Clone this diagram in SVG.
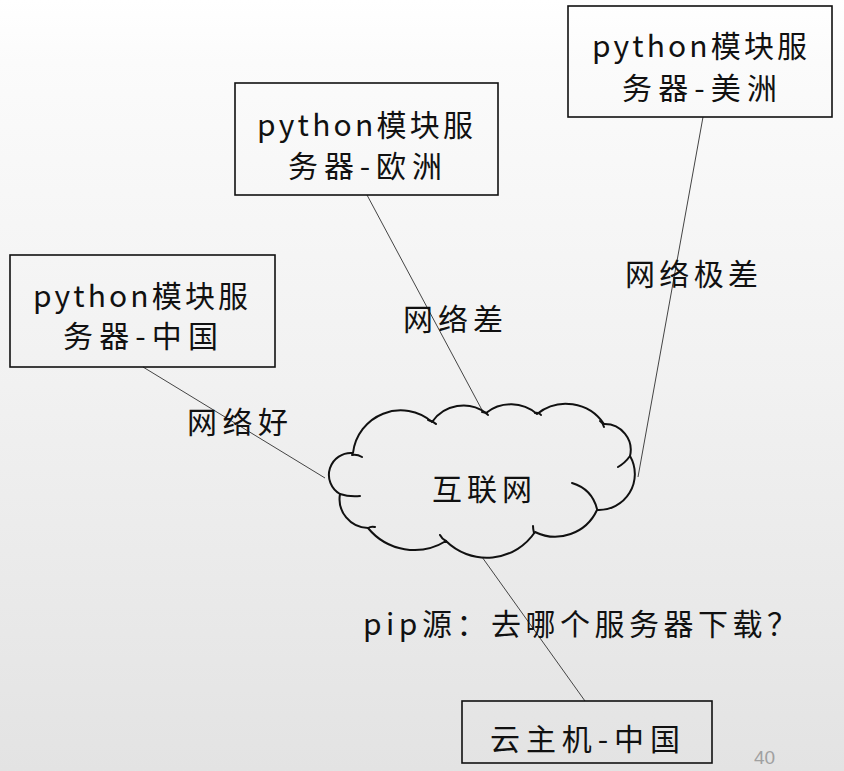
<svg xmlns="http://www.w3.org/2000/svg" width="844" height="771" viewBox="0 0 844 771">
<defs>
<linearGradient id="bg" x1="0" y1="0" x2="0" y2="1">
<stop offset="0" stop-color="#ffffff"/>
<stop offset="0.08" stop-color="#fbfbfb"/>
<stop offset="0.5" stop-color="#f1f1f1"/>
<stop offset="1" stop-color="#e3e3e3"/>
</linearGradient>
<style>
.box{fill:none;stroke:#111;stroke-width:1.6}
.t{font-family:"Noto Sans CJK SC","Liberation Sans",sans-serif;font-size:30px;fill:#111;dominant-baseline:central}
.conn line{stroke:#444;stroke-width:1}
.cloud{fill:none;stroke:#111;stroke-width:2;stroke-linecap:round;stroke-linejoin:round}
</style>
</defs>
<rect x="0" y="0" width="844" height="771" fill="url(#bg)"/>
<g id="connectors" class="conn">
<line x1="143" y1="367" x2="325" y2="478"/>
<line x1="367" y1="195" x2="482" y2="410"/>
<line x1="703" y1="117" x2="638" y2="477"/>
<line x1="482" y1="557" x2="585" y2="701"/>
</g>
<g id="node-china">
<rect class="box" x="10" y="255" width="265" height="112"/>
<text class="t" x="33" y="294" textLength="215" lengthAdjust="spacing">python模块服</text>
<text class="t" x="63" y="334" textLength="155" lengthAdjust="spacing">务器-中国</text>
</g>
<g id="node-europe">
<rect class="box" x="235" y="83" width="263" height="112"/>
<text class="t" x="257" y="123" textLength="216" lengthAdjust="spacing">python模块服</text>
<text class="t" x="288" y="164" textLength="154" lengthAdjust="spacing">务器-欧洲</text>
</g>
<g id="node-america">
<rect class="box" x="568" y="6" width="264" height="111"/>
<text class="t" x="592" y="44" textLength="215" lengthAdjust="spacing">python模块服</text>
<text class="t" x="622" y="86" textLength="155" lengthAdjust="spacing">务器-美洲</text>
</g>
<g id="node-internet">
<path class="cloud" d="M340,494 A22,22 0 0 1 353,453 A48,48 0 0 1 432,422 A38,38 0 0 1 486,413 A40,40 0 0 1 537,414 A46,46 0 0 1 604,424 A26,26 0 0 1 630,456 A36,36 0 0 1 597,510 A46,46 0 0 1 535,532 A58,58 0 0 1 446,541 A60,60 0 0 1 368,528 A29,29 0 0 1 340,494 Z"/>
<path class="cloud" d="M340,494 Q349,497 360,496 M352,455 Q357,454 362,457 M428,420 Q433,421 436,424 M482,412 Q486,412 488,415 M535,413 Q539,412 541,415 M600,421 Q603,423 604,427 M630,456 Q625,463 618,467 M572,483 Q592,489 597,509 M534,533 Q533,529 533,526 M446,541 Q442,539 440,535 M368,528 Q371,526 375,527"/>
<text class="t" x="432" y="487" textLength="100" lengthAdjust="spacing">互联网</text>
</g>
<g id="node-host">
<rect class="box" x="462" y="701" width="250" height="62"/>
<text class="t" x="490" y="737" textLength="190" lengthAdjust="spacing">云主机-中国</text>
</g>
<g id="labels">
<text class="t" x="187" y="420" textLength="101" lengthAdjust="spacing">网络好</text>
<text class="t" x="403" y="317" textLength="100" lengthAdjust="spacing">网络差</text>
<text class="t" x="625" y="272" textLength="133" lengthAdjust="spacing">网络极差</text>
<text class="t" x="363" y="622" textLength="434" lengthAdjust="spacing">pip源：去哪个服务器下载？</text>
<text x="754" y="764" font-family="Liberation Sans, sans-serif" font-size="19" fill="#a0a0a0">40</text>
</g>
</svg>
